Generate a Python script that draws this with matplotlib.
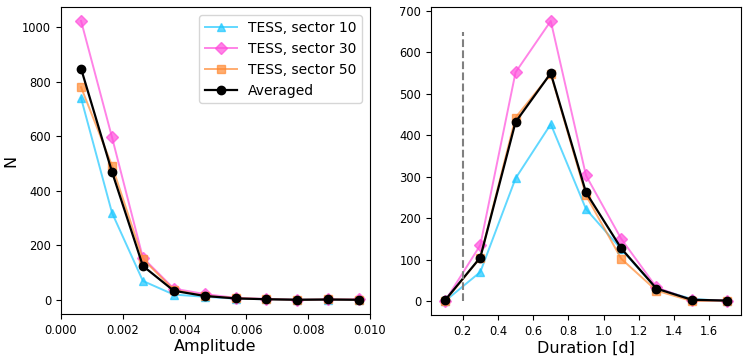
import matplotlib
matplotlib.use("Agg")
import matplotlib.pyplot as plt
import numpy as np

# Amplitude panel
amp = [0.00065, 0.00165, 0.00265, 0.00365, 0.00465, 0.00565, 0.00665, 0.00765, 0.00865, 0.00965]
amp_s10 = [740, 320, 70, 20, 12, 5, 3, 1, 1, 0]
amp_s30 = [1023, 597, 155, 42, 22, 8, 4, 1, 2, 2]
amp_s50 = [780, 493, 150, 38, 15, 7, 3, 1, 2, 1]
amp_avg = [848, 470, 125, 34, 15, 6, 3, 1, 2, 1]

# Duration panel
dur = [0.1, 0.3, 0.5, 0.7, 0.9, 1.1, 1.3, 1.5, 1.7]
dur_s10 = [0, 70, 296, 427, 222, 125, 30, 5, 0]
dur_s30 = [0, 135, 552, 676, 303, 150, 33, 2, 1]
dur_s50 = [0, 105, 443, 548, 255, 102, 25, 0, 1]
dur_avg = [2, 105, 432, 550, 262, 127, 30, 3, 1]

labels = ["TESS, sector 10", "TESS, sector 30", "TESS, sector 50", "Averaged"]
c10, c30, c50 = "#1ec8ff", "#ff4fdc", "#ff8a33"

fig = plt.figure(figsize=(7.48, 3.59), dpi=100)
ax1 = fig.add_axes([61/748, 1-314/359, 309/748, 307/359])
ax2 = fig.add_axes([431/748, 1-315/359, 310/748, 308/359])

def draw(ax, x, s10, s30, s50, avg):
    ax.plot(x, s10, color=c10, marker="^", ms=6, lw=1.4, alpha=0.7, label=labels[0])
    ax.plot(x, s30, color=c30, marker="D", ms=6, lw=1.4, alpha=0.7, label=labels[1])
    ax.plot(x, s50, color=c50, marker="s", ms=6, lw=1.4, alpha=0.7, label=labels[2])
    ax.plot(x, avg, color="black", marker="o", ms=6, lw=1.6, label=labels[3])
    ax.tick_params(labelsize=8.3)

draw(ax1, amp, amp_s10, amp_s30, amp_s50, amp_avg)
ax1.set_xlim(0, 0.01)
ax1.set_xticks([0, 0.002, 0.004, 0.006, 0.008, 0.010])
ax1.set_xticklabels(["0.000", "0.002", "0.004", "0.006", "0.008", "0.010"])
ax1.set_xlabel("Amplitude", fontsize=11.5, labelpad=2)
ax1.set_ylabel("N", fontsize=11.5, labelpad=3)
ax1.legend(fontsize=10, loc="upper right", handlelength=2.3, borderaxespad=0.6)

draw(ax2, dur, dur_s10, dur_s30, dur_s50, dur_avg)
ax2.plot([0.2, 0.2], [0, 650], color="gray", ls="--", lw=1.5)
ax2.set_xticks([0.2, 0.4, 0.6, 0.8, 1.0, 1.2, 1.4, 1.6])
ax2.set_xlabel("Duration [d]", fontsize=11.5, labelpad=2)

fig.savefig("out.png", dpi=100)
